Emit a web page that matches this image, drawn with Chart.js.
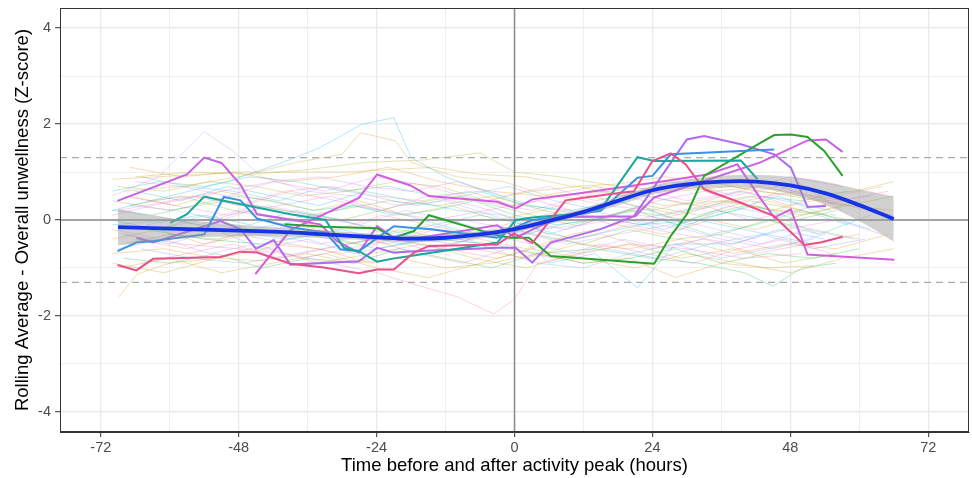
<!DOCTYPE html>
<html>
<head>
<meta charset="utf-8">
<script src="https://cdn.jsdelivr.net/npm/chart.js@4.4.1/dist/chart.umd.min.js"></script>
<style>
  html, body { margin: 0; padding: 0; background: #fff; }
  #wrap { width: 972px; height: 478px; }
</style>
</head>
<body>
<div id="wrap"><canvas id="trend"></canvas></div>
<script>
// axis limits and ticks
const xLimits = [-79.1, 79.1];
const yLimits = [-4.42, 4.42];
const xTicks = [-72, -60, -48, -36, -24, -12, 0, 12, 24, 36, 48, 60, 72];
const yTicks = [-4, -3, -2, -1, 0, 1, 2, 3, 4];
const refLevels = [-1.3, 1.3];

// faint participant trajectories (time in hours, rolling z-score)
const faintTimes = [
  [-70,-62,-55,-48,-40,-30,-22,-14,-6,2,10,18,26,34,42,50,57],
  [-70,-60,-50,-41,-34,-26.5,-21,-18,-12,-5,3,12,22,32,44,52],
  [-68,-58,-48,-38,-30,-26.8,-20.7,-18,-10,-2,6,16,26,36,46,56],
  [-70,-62,-54,-49,-44,-36,-28,-20,-12,-4,4,12,22,32,42],
  [-68,-58,-48,-40,-32,-24,-17.5,-10,-3.6,0,4,12,20,30,40,50],
  [-66,-56,-46,-36,-26,-16,-6,0,8,18,28,38,48,58,66],
  [-69,-65.7,-60,-52,-44,-36,-28,-20,-12,-4,4,12,20,28,36,44,52],
  [-64,-54,-44,-34,-24,-14,-4,4,14,24,32,40,45,50,56],
  [-70,-63,-55,-47,-39,-31,-23,-15,-7,1,9,17,25,33,41,49,57],
  [-68,-60,-52,-44,-36,-28,-20,-12,-4,4,12,20,28,36,44,52,60],
  [-66,-58,-50,-42,-34,-26,-18,-10,-2,6,14,22,30,38,46,54,62],
  [-70,-61,-52,-43,-34,-25,-16,-7,2,11,20,29,38,47,56,65],
  [-67,-59,-51,-43,-35,-27,-19,-11,-3,5,13,21,29,37,45,53],
  [-69,-61,-53,-45,-37,-29,-21,-13,-5,3,11,19,27,35,43,51,59,66],
  [-65,-57,-49,-41,-33,-25,-17,-9,-1,7,15,23,31,39,47,55],
  [-70,-62,-54,-46,-38,-30,-22,-14,-6,2,10,18,26,34,42,50,58],
  [-64,-56,-48,-40,-32,-24,-16,-8,0,8,16,24,32,40,48,56,64],
  [-68,-60,-52,-44,-36,-28,-20,-12,-4,4,12,20,28,36,44,52],
  [-70,-63,-56,-49,-42,-35,-28,-21,-14,-7,0,7,14,21,28,35,42,49,56],
  [-66,-58,-50,-42,-34,-26,-18,-10,-2,6,14,22,30,38,46,54,62],
  [-69,-61,-53,-45,-37,-29,-21,-13,-5,3,11,19,27,35,43,51,59],
  [-67,-59,-51,-43,-35,-27,-19,-11,-3,5,13,21,29,37,45,53,61],
  [-70,-60,-50,-40,-30,-20,-10,-4,0,6,14,21.4,28,38,46,54],
  [-68,-60,-52,-44,-36,-28,-20,-12,-4,4,12,20,28,36,44,52,60],
  [-63,-55,-47,-39,-31,-23,-15,-7,1,9,17,25,33,41,49,57,65],
  [-70,-62,-54,-46,-38,-30,-22,-14,-6,2,10,18,26,34,42,50,58,66],
  [-65,-57,-49,-41,-33,-25,-17,-9,-1,7,15,23,31,39,47,55],
  [-70,-61,-52,-43,-34,-25,-16,-7,2,11,20,29,38,47,56,64],
  [-67,-58,-49,-40,-31,-22,-13,-4,5,14,23,32,41,50,58],
  [-69,-60,-51,-42,-33,-24,-15,-6,3,12,21,30,39,48,57,66],
  [-70,-62,-54,-46,-38,-30,-22,-14,-6,2,10,18,26,34,42,50,58],
  [-66,-57,-48,-39,-30,-21,-12,-3,6,15,24,33,42,51,60],
  [-69,-60,-51,-42,-33,-24,-15,-6,3,12,21,30,39,48,57],
  [-64,-55,-46,-37,-28,-19,-10,-1,8,17,26,35,44,53,62],
  [-70,-61,-52,-43,-34,-25,-16,-7,2,11,20,29,38,47,56],
  [-68,-59,-50,-41,-32,-23,-14,-5,4,13,22,31,40,49,58,66],
  [-67,-58,-49,-40,-31,-22,-13,-4,5,14,23,32,41,50],
  [-65,-56,-47,-38,-29,-20,-11,-2,7,16,25,34,43,52,61],
  [-70,-60,-50,-40,-30,-20,-10,0,10,20,30,40,50,60],
  [-63,-54,-45,-36,-27,-18,-9,0,9,18,27,36,45,54]
];
const faintScores = [
  [0.85,0.9,0.95,1.0,1.0,1.0,1.05,1.1,0.95,0.9,0.7,0.75,0.9,0.8,0.6,0.5,0.3],
  [0.2,0.5,0.8,1.17,1.5,2.0,2.13,1.3,0.9,0.6,0.3,0.1,-0.1,0.0,-0.3,-0.5],
  [0.6,0.7,0.9,1.2,1.37,1.82,1.65,1.2,0.9,0.8,0.5,0.6,0.3,0.4,0.2,0.1],
  [0.5,0.9,1.84,1.44,0.9,0.6,0.5,0.3,0.4,0.1,-0.2,-0.1,0.1,-0.1,-0.4],
  [-0.3,-0.5,-0.6,-0.7,-0.9,-1.1,-1.34,-1.6,-1.96,-1.65,-0.9,-0.7,-0.5,-0.6,-0.8,-0.7],
  [0.9,1.0,0.95,1.05,1.2,1.25,1.4,1.0,0.9,0.7,0.6,0.7,0.5,0.3,0.5],
  [-1.62,-1.13,-0.9,-0.8,-0.85,-0.7,-0.9,-0.8,-1.0,-0.9,-0.7,-0.9,-0.8,-1.2,-0.9,-1.0,-0.95],
  [-0.2,-0.4,-0.5,-0.3,-0.6,-0.4,-0.5,-0.7,-0.6,-0.8,-0.9,-1.1,-1.38,-1.0,-0.9],
  [0.1,0.3,0.5,0.3,0.6,0.4,0.2,0.5,0.3,0.0,-0.2,0.1,0.4,0.6,0.3,0.8,0.2],
  [-0.5,-0.3,-0.4,-0.2,-0.3,-0.5,-0.2,-0.4,-0.1,-0.3,-0.5,-0.2,-0.4,-0.3,0.0,-0.2,-0.4],
  [0.6,0.4,0.7,0.5,0.3,0.6,0.4,0.2,0.1,-0.3,0.0,0.3,-0.1,0.2,0.5,0.1,-0.2],
  [-0.7,-0.6,-0.8,-0.5,-0.6,-0.9,-0.7,-0.6,-0.8,-0.5,-0.6,-0.4,-0.7,-0.5,-0.6,-0.3],
  [0.3,0.2,0.0,0.3,0.1,-0.1,0.2,0.0,-0.3,-0.1,0.2,0.0,-0.2,0.3,0.1,-0.3],
  [0.7,0.6,0.8,0.7,0.5,0.6,0.8,0.7,0.4,0.6,0.7,0.5,0.8,0.6,0.7,0.5,0.6,0.8],
  [-0.9,-0.7,-0.5,-0.8,-0.6,-0.4,-0.7,-0.9,-0.6,-0.8,-0.5,-0.7,-0.9,-0.6,-0.4,-0.7],
  [0.0,-0.2,0.1,-0.1,0.2,0.0,-0.3,-0.1,0.1,-0.1,-0.4,-0.2,0.0,-0.3,-0.1,0.2,-0.1],
  [0.4,0.5,0.3,0.6,0.7,0.5,0.4,0.6,0.3,0.5,0.3,0.2,0.4,0.6,0.3,0.5,0.7],
  [-0.3,-0.5,-0.2,-0.6,-0.4,-0.7,-0.5,-0.3,-0.6,-0.9,-1.0,-0.7,-0.5,-0.8,-0.6,-0.4],
  [0.2,0.1,0.3,0.5,0.4,0.2,0.3,0.1,0.2,0.4,0.1,-0.1,0.0,0.2,-0.1,0.1,0.3,0.0,0.2],
  [0.8,0.7,0.5,0.8,0.9,0.7,0.6,0.8,0.5,0.7,0.4,0.6,0.8,0.5,0.7,0.4,0.5],
  [-0.6,-0.4,-0.7,-0.5,-0.8,-0.6,-0.4,-0.6,-0.3,-0.5,-0.7,-0.4,-0.6,-0.3,-0.5,-0.2,-0.4],
  [0.5,0.3,0.6,0.4,0.2,0.4,0.1,0.3,0.0,0.2,0.5,0.3,0.1,0.4,0.2,0.5,0.3],
  [-0.1,0.0,-0.2,-0.4,-0.2,-0.5,-0.3,-0.6,-0.2,-0.9,-0.7,-1.41,-0.5,-0.5,-0.2,-0.4],
  [-0.8,-0.9,-0.7,-1.0,-0.8,-0.9,-0.6,-0.8,-1.0,-0.7,-0.9,-0.8,-0.6,-0.9,-0.7,-0.8,-0.6],
  [0.1,-0.1,0.2,0.0,-0.2,0.1,-0.1,-0.3,0.0,0.2,-0.1,0.1,0.3,0.0,0.2,0.4,0.6],
  [-0.4,-0.2,-0.5,-0.3,-0.1,-0.3,-0.5,-0.2,-0.4,-0.6,-0.3,-0.1,-0.3,0.0,-0.2,0.1,0.3,0.2],
  [0.9,0.7,0.6,0.4,0.7,0.5,0.3,0.5,0.7,0.4,0.2,0.5,0.3,0.6,0.4,0.2],
  [-0.2,-0.4,-0.1,-0.3,-0.5,-0.3,-0.6,-0.4,-0.2,-0.4,-0.1,-0.3,-0.5,-0.2,0.0,-0.3],
  [0.3,0.5,0.2,0.0,0.2,0.4,0.3,0.5,0.2,0.0,0.3,0.1,0.4,0.2,0.0],
  [-1.0,-0.8,-1.1,-0.9,-0.7,-1.0,-1.2,-0.9,-0.6,-0.8,-1.0,-0.7,-0.9,-1.1,-0.8,-0.6],
  [0.6,0.8,0.7,0.9,0.8,0.6,0.7,0.5,0.6,0.3,0.2,0.4,0.1,0.3,0.5,0.4,0.6],
  [-0.4,-0.6,-0.3,-0.5,-0.7,-0.4,-0.6,-0.8,-0.5,-0.3,-0.6,-0.4,-0.7,-0.5,-0.3],
  [0.2,0.4,0.6,0.8,0.6,0.9,0.7,0.4,0.2,0.5,0.7,0.4,0.6,0.9,0.7],
  [-0.1,0.1,-0.2,0.0,0.3,0.1,-0.2,-0.4,-0.1,0.1,-0.2,0.2,0.0,-0.3,0.1],
  [-0.9,-1.1,-0.8,-0.6,-0.9,-0.7,-0.5,-0.8,-1.0,-0.7,-0.5,-0.8,-0.6,-0.9,-0.7],
  [0.5,0.3,0.1,0.3,0.5,0.2,0.0,0.2,0.4,0.1,-0.1,0.2,0.4,0.6,0.3,0.1],
  [1.1,0.9,1.0,0.8,0.9,1.1,0.8,0.6,0.5,0.7,0.5,0.3,0.5,0.2],
  [-0.6,-0.8,-0.9,-0.7,-0.5,-0.3,-0.5,-0.2,-0.4,-0.6,-0.8,-0.5,-0.3,-0.6,-0.4],
  [0.4,0.2,0.4,0.2,0.0,0.3,0.5,0.2,-0.1,0.2,0.0,0.3,0.1,0.4],
  [-0.2,0.0,0.3,0.1,-0.1,-0.3,0.0,-0.2,-0.5,-0.3,-0.1,-0.4,-0.6,-0.3]
];
const faintColors = [
  '#C99800','#00B0F6','#C99800','#B983FF','#FF67A4','#A3A500','#E58700','#00BA38',
  '#FD61D1','#6BB100','#00BCD8','#E58700','#B983FF','#A3A500','#FF67A4','#00C0AF',
  '#F8766D','#619CFF','#00BF7D','#E76BF3','#B983FF','#C99800','#00B0F6','#00BA38',
  '#FF67A4','#E58700','#619CFF','#E76BF3','#6BB100','#C99800',
  '#00C0AF','#F8766D','#E76BF3','#00BCD8','#A3A500','#FD61D1','#E58700','#619CFF',
  '#6BB100','#B983FF'
];

// highlighted participants
const pinkTimes = [-69.1,-65.8,-62.9,-51.2,-47.7,-44.8,-39,-33.2,-27.1,-23.9,-21,-17.5,-14.9,-3,-0.1,3.1,8.9,16.1,20.8,24,27.2,29.8,33,39.4,45.2,50.4,53.3,57.1];
const pinkScores = [-0.94,-1.05,-0.81,-0.77,-0.66,-0.68,-0.91,-0.99,-1.11,-1.03,-1.03,-0.68,-0.54,-0.51,-0.28,-0.48,0.41,0.53,0.6,1.23,1.39,1.16,0.64,0.36,0.08,-0.52,-0.47,-0.35];
const tealTimes = [-59.9,-57,-54,-50.6,-47.7,-44.8,-39,-32.9,-29.7,-27.1,-23.9,-21,-18.1,-3,0.2,3.1,9.8,15,21.4,24.3,39.4,42.3];
const tealScores = [-0.06,0.12,0.49,0.4,0.33,0.26,0.12,0.0,-0.58,-0.65,-0.87,-0.8,-0.75,-0.47,0.0,0.05,0.12,0.22,1.31,1.23,1.24,0.85];
const blueTimes = [-69.1,-65.8,-62.8,-54,-50.6,-47.7,-44.8,-39,-32.9,-30.3,-27.1,-21,-18.1,-14.9,-3,0.2,3.1,9.8,15,21.4,24,27.2,39.4,45.2];
const blueScores = [-0.65,-0.47,-0.44,-0.3,0.48,0.41,0.03,-0.15,-0.26,-0.61,-0.65,-0.13,-0.16,-0.19,-0.37,-0.15,0.0,0.1,0.19,0.88,0.92,1.37,1.44,1.47];
const greenTimes = [-40,-33.2,-23.9,-21,-17.5,-14.9,-3.6,-0.7,2.5,6.3,9.8,24.3,27.2,30,33,42.8,45.2,48.1,51,53.9,57.1];
const greenScores = [-0.09,-0.14,-0.17,-0.37,-0.23,0.10,-0.3,-0.37,-0.37,-0.75,-0.78,-0.91,-0.33,0.12,0.92,1.61,1.77,1.78,1.73,1.44,0.92];
const magentaTimes = [-69.1,-57,-54,-51,-47.7,-44.8,-39,-33.8,-30.9,-27.1,-23.9,-21,-18.1,-3,0.2,3.1,8,21,24.3,42.8,51,54.2,57.1];
const magentaScores = [0.4,0.95,1.3,1.19,0.74,0.12,0.01,-0.09,-0.44,-0.68,-0.13,-0.37,-0.4,-0.11,-0.37,-0.2,0.06,0.08,0.47,1.2,1.66,1.68,1.42];
const violetTimes = [-65.8,-62.9,-51.2,-47.7,-45,-41.9,-39,-27.1,-23.9,-21,-17.5,-3,0.2,3.1,6.3,15,20.8,30,33,39.4,45.2,48.1,51,54.2];
const violetScores = [-0.37,-0.47,-0.02,-0.19,-0.6,-0.42,-0.93,-0.86,-0.58,-0.68,-0.65,-0.58,-0.58,-0.89,-0.47,-0.19,0.08,1.68,1.75,1.58,1.37,1.09,0.27,0.29];
const orchidTimes = [-45.1,-39,-27.1,-23.9,-18.1,-14.9,-3,0.2,3.1,9.8,26,33.5,38.8,42.8,45.2,48.1,51,66.1];
const orchidScores = [-1.13,-0.21,0.46,0.95,0.72,0.5,0.38,0.24,0.43,0.53,0.81,0.95,1.16,0.45,0.05,0.22,-0.72,-0.83];

// loess smooth with confidence band
const smoothTimes = [-69,-60,-48,-39,-33,-24,-18,-12,-6,0,6,12,18,24,30,36,42,48,54,60,66];
const smoothMean  = [-0.15,-0.18,-0.22,-0.26,-0.30,-0.36,-0.39,-0.37,-0.30,-0.19,-0.02,0.17,0.40,0.62,0.74,0.80,0.80,0.72,0.56,0.31,0.02];
const smoothUpper = [0.23,0.04,-0.10,-0.17,-0.22,-0.29,-0.32,-0.30,-0.23,-0.12,0.05,0.24,0.48,0.71,0.84,0.92,0.94,0.90,0.80,0.64,0.49];
const smoothLower = [-0.53,-0.40,-0.34,-0.35,-0.38,-0.43,-0.46,-0.44,-0.37,-0.26,-0.09,0.10,0.32,0.53,0.64,0.68,0.66,0.54,0.32,-0.02,-0.45];

function toPoints(xs, ys) {
  return xs.map((x, i) => ({ x, y: ys[i] }));
}

function withAlpha(hex, a) {
  const n = parseInt(hex.slice(1), 16);
  return `rgba(${(n >> 16) & 255},${(n >> 8) & 255},${n & 255},${a})`;
}

const datasets = [];

faintTimes.forEach((times, i) => {
  datasets.push({
    data: toPoints(times, faintScores[i]),
    borderColor: withAlpha(faintColors[i], 0.3),
    borderWidth: 1,
    order: 10
  });
});

// reference lines
datasets.push({
  data: [{ x: xLimits[0], y: 0 }, { x: xLimits[1], y: 0 }],
  borderColor: '#8C8C8C', borderWidth: 1.5, order: 8
});
datasets.push({
  data: [{ x: 0, y: yLimits[0] }, { x: 0, y: yLimits[1] }],
  borderColor: '#8C8C8C', borderWidth: 1.5, order: 8
});
refLevels.forEach(level => {
  datasets.push({
    data: [{ x: xLimits[0], y: level }, { x: xLimits[1], y: level }],
    borderColor: '#ABABAB', borderWidth: 1.3, borderDash: [7, 5], order: 8
  });
});

const highlights = [
  [pinkTimes, pinkScores, '#E8508C'],
  [tealTimes, tealScores, '#1BA89C'],
  [blueTimes, blueScores, '#3A92E4'],
  [greenTimes, greenScores, '#27A22B'],
  [magentaTimes, magentaScores, '#C862E4'],
  [violetTimes, violetScores, '#B06AF0'],
  [orchidTimes, orchidScores, '#D45EDF']
];
highlights.forEach(([times, scores, color]) => {
  datasets.push({
    data: toPoints(times, scores),
    borderColor: color,
    borderWidth: 2,
    order: 5
  });
});

// confidence band: upper filled down to lower
datasets.push({
  data: toPoints(smoothTimes, smoothUpper),
  borderWidth: 0,
  borderColor: 'rgba(0,0,0,0)',
  backgroundColor: 'rgba(153,153,153,0.45)',
  fill: '+1',
  tension: 0.4,
  order: 3
});
datasets.push({
  data: toPoints(smoothTimes, smoothLower),
  borderWidth: 0,
  borderColor: 'rgba(0,0,0,0)',
  fill: false,
  tension: 0.4,
  order: 3
});
datasets.push({
  data: toPoints(smoothTimes, smoothMean),
  borderColor: '#1434E6',
  borderWidth: 3.8,
  tension: 0.4,
  order: 1
});

const panelBorder = {
  id: 'panelBorder',
  afterDraw(chart) {
    const { ctx, chartArea: a } = chart;
    ctx.save();
    ctx.strokeStyle = '#333333';
    ctx.lineWidth = 1;
    ctx.strokeRect(a.left + 0.5, a.top + 0.5, a.right - a.left - 1, a.bottom - a.top - 1);
    ctx.restore();
  }
};

const tickFont = { family: 'Liberation Sans, Arial, sans-serif', size: 14.5 };
const titleFont = { family: 'Liberation Sans, Arial, sans-serif', size: 18.5 };

new Chart(document.getElementById('trend'), {
  type: 'line',
  data: { datasets },
  options: {
    responsive: true,
    maintainAspectRatio: false,
    animation: false,
    events: [],
    elements: { point: { radius: 0 }, line: { tension: 0 } },
    layout: { padding: { top: 8, right: 3, left: 0, bottom: 0 } },
    plugins: { legend: { display: false }, tooltip: { enabled: false } },
    scales: {
      x: {
        type: 'linear',
        min: xLimits[0],
        max: xLimits[1],
        afterBuildTicks: s => { s.ticks = xTicks.map(v => ({ value: v })); },
        afterFit: s => { s.height = 46; s.paddingLeft = 0; s.paddingRight = 0; },
        ticks: {
          autoSkip: false,
          maxRotation: 0,
          padding: 2,
          color: '#4D4D4D',
          font: tickFont,
          callback: v => (v % 24 === 0 ? String(v) : '')
        },
        grid: {
          color: '#EBEBEB',
          lineWidth: c => (c.tick && c.tick.value % 24 === 0 ? 1.4 : 0.8),
          tickColor: c => (c.tick && c.tick.value % 24 === 0 ? '#333333' : 'rgba(0,0,0,0)'),
          tickLength: 5,
          tickWidth: 1
        },
        border: { display: true, color: '#333333', width: 1 },
        title: {
          display: true,
          text: 'Time before and after activity peak (hours)',
          color: '#000000',
          font: titleFont,
          padding: { top: 1, bottom: 1 }
        }
      },
      y: {
        min: yLimits[0],
        max: yLimits[1],
        afterBuildTicks: s => { s.ticks = yTicks.map(v => ({ value: v })); },
        afterFit: s => { s.width = 60; s.paddingTop = 0; s.paddingBottom = 0; },
        ticks: {
          autoSkip: false,
          padding: 4,
          color: '#4D4D4D',
          font: tickFont,
          callback: v => (v % 2 === 0 ? String(v) : '')
        },
        grid: {
          color: '#EBEBEB',
          lineWidth: c => (c.tick && c.tick.value % 2 === 0 ? 1.4 : 0.8),
          tickColor: c => (c.tick && c.tick.value % 2 === 0 ? '#333333' : 'rgba(0,0,0,0)'),
          tickLength: 5,
          tickWidth: 1
        },
        border: { display: true, color: '#333333', width: 1 },
        title: {
          display: true,
          text: 'Rolling Average - Overall unwellness (Z-score)',
          color: '#000000',
          font: titleFont,
          padding: { top: 12, bottom: 0 }
        }
      }
    }
  },
  plugins: [panelBorder]
});
</script>
</body>
</html>
